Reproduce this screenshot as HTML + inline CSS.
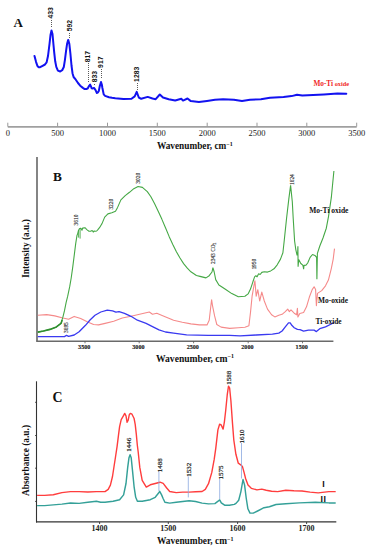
<!DOCTYPE html>
<html><head><meta charset="utf-8"><style>
html,body{margin:0;padding:0;background:#fff;}
body{width:371px;height:550px;overflow:hidden;font-family:"Liberation Serif",serif;}
svg{display:block;}
</style></head><body>
<svg width="371" height="550" viewBox="0 0 371 550">
<rect width="371" height="550" fill="#fff"/>
<polyline points="34.5,55.9 36.1,62.1 37.4,65.8 38.5,67.2 40.1,67.2 42.6,65.8 45,64.5 46.6,62.4 48,56 49.5,44 50.5,35 51.5,30.5 52.5,34 53.5,45 54.2,52.4 55.2,61.3 56.3,66.9 57.9,70.6 60.2,71.5 62.2,70.2 63.8,67 64.9,60.1 66,51.4 67.1,43.7 68.2,39.9 69.3,43.7 70.4,53.5 71.5,65.5 72.5,73.2 73.6,77 75.8,79.7 78,83 80.2,85.7 82.9,87.9 84.7,89.1 86.5,89 87.7,88.4 89,86 90.1,84.6 91,86.5 91.6,88.2 92.8,88.4 94,87.9 95.4,89.8 96.9,93 98,92.3 98.8,91 99.8,86 101,82 101.8,84.5 102.4,88 103.7,94.4 105.1,95.9 109,97.2 112,97.8 115.3,98.3 123.4,99.1 131.5,98.8 134.7,96.4 136.7,91.9 138.8,97.5 141.2,98.8 147.7,96.9 152.5,98.5 155.7,99.2 159.8,94.5 163,97.5 168.7,99.2 175.2,100.5 181.3,98.8 183,100.6 187.5,98.5 190.8,101.1 198.9,102 207,100.9 215,99.8 223.1,99.3 233.9,99.8 242,101.1 250,99.8 260.9,99.3 270,97.8 283.5,97 291.6,96.1 297,94.8 302.3,95.6 313.1,95.1 323.9,94.5 337.4,93.5 346.3,93.7" fill="none" stroke="#1212f0" stroke-width="2.0" stroke-linejoin="round" stroke-linecap="round"/>
<text transform="translate(53.0,18.6) rotate(-90)" font-size="6.8" font-family="Liberation Sans" font-weight="bold" fill="#111" text-anchor="start">433</text>
<text transform="translate(72.30000000000001,31.3) rotate(-90)" font-size="6.8" font-family="Liberation Sans" font-weight="bold" fill="#111" text-anchor="start">592</text>
<text transform="translate(90.10000000000001,62.3) rotate(-90)" font-size="6.8" font-family="Liberation Sans" font-weight="bold" fill="#111" text-anchor="start">817</text>
<text transform="translate(96.9,82.2) rotate(-90)" font-size="6.8" font-family="Liberation Sans" font-weight="bold" fill="#111" text-anchor="start">833</text>
<text transform="translate(102.7,67.9) rotate(-90)" font-size="6.8" font-family="Liberation Sans" font-weight="bold" fill="#111" text-anchor="start">917</text>
<text transform="translate(139.20000000000002,81.9) rotate(-90)" font-size="6.8" font-family="Liberation Sans" font-weight="bold" fill="#111" text-anchor="start">1283</text>
<line x1="51.5" y1="20" x2="51.5" y2="28" stroke="#5a5a5a" stroke-width="1" stroke-dasharray="1 1" shape-rendering="crispEdges"/>
<line x1="69.5" y1="33" x2="69.5" y2="39" stroke="#5a5a5a" stroke-width="1" stroke-dasharray="1 1" shape-rendering="crispEdges"/>
<line x1="88.5" y1="63" x2="88.5" y2="83" stroke="#5a5a5a" stroke-width="1" stroke-dasharray="1 1" shape-rendering="crispEdges"/>
<line x1="94.5" y1="84" x2="94.5" y2="86" stroke="#5a5a5a" stroke-width="1" stroke-dasharray="1 1" shape-rendering="crispEdges"/>
<line x1="101.5" y1="69" x2="101.5" y2="78" stroke="#5a5a5a" stroke-width="1" stroke-dasharray="1 1" shape-rendering="crispEdges"/>
<line x1="137.5" y1="83" x2="137.5" y2="90" stroke="#5a5a5a" stroke-width="1" stroke-dasharray="1 1" shape-rendering="crispEdges"/>
<line x1="7.8" y1="126.8" x2="356.7" y2="126.8" stroke="#a0a0a0" stroke-width="1.8"/>
<line x1="7.8" y1="122.7" x2="7.8" y2="126.6" stroke="#999" stroke-width="1"/>
<text x="7.8" y="136.4" font-size="8.5" font-family="Liberation Serif" fill="#222" text-anchor="middle">0</text>
<line x1="57.6" y1="122.7" x2="57.6" y2="126.6" stroke="#999" stroke-width="1"/>
<text x="57.6" y="136.4" font-size="8.5" font-family="Liberation Serif" fill="#222" text-anchor="middle">500</text>
<line x1="107.5" y1="122.7" x2="107.5" y2="126.6" stroke="#999" stroke-width="1"/>
<text x="107.5" y="136.4" font-size="8.5" font-family="Liberation Serif" fill="#222" text-anchor="middle">1000</text>
<line x1="157.3" y1="122.7" x2="157.3" y2="126.6" stroke="#999" stroke-width="1"/>
<text x="157.3" y="136.4" font-size="8.5" font-family="Liberation Serif" fill="#222" text-anchor="middle">1500</text>
<line x1="207.2" y1="122.7" x2="207.2" y2="126.6" stroke="#999" stroke-width="1"/>
<text x="207.2" y="136.4" font-size="8.5" font-family="Liberation Serif" fill="#222" text-anchor="middle">2000</text>
<line x1="257.0" y1="122.7" x2="257.0" y2="126.6" stroke="#999" stroke-width="1"/>
<text x="257.0" y="136.4" font-size="8.5" font-family="Liberation Serif" fill="#222" text-anchor="middle">2500</text>
<line x1="306.8" y1="122.7" x2="306.8" y2="126.6" stroke="#999" stroke-width="1"/>
<text x="306.8" y="136.4" font-size="8.5" font-family="Liberation Serif" fill="#222" text-anchor="middle">3000</text>
<line x1="356.7" y1="122.7" x2="356.7" y2="126.6" stroke="#999" stroke-width="1"/>
<text x="356.7" y="136.4" font-size="8.5" font-family="Liberation Serif" fill="#222" text-anchor="middle">3500</text>
<text x="194.8" y="149.3" font-size="9.3" font-family="Liberation Serif" font-weight="bold" fill="#111" text-anchor="middle">Wavenumber, cm<tspan font-size="6" dy="-3.5">&#8722;1</tspan></text>
<text x="13.4" y="26.7" font-size="13" font-family="Liberation Serif" font-weight="bold" fill="#111">A</text>
<text x="313.4" y="85.7" font-family="Liberation Serif" font-weight="bold" fill="#f02828"><tspan font-size="7.3">Mo-Ti</tspan><tspan font-size="6.3"> oxide</tspan></text>
<line x1="37" y1="156.9" x2="37" y2="341.3" stroke="#666" stroke-width="1.6"/>
<line x1="36.2" y1="341.3" x2="333.4" y2="341.3" stroke="#6a6a6a" stroke-width="1.5"/>
<line x1="85" y1="341.3" x2="85" y2="343.3" stroke="#555" stroke-width="0.8"/>
<text x="84.2" y="349.3" font-size="6.1" font-family="Liberation Serif" font-weight="bold" fill="#222" stroke="#222" stroke-width="0.15" text-anchor="middle">3500</text>
<line x1="139.2" y1="341.3" x2="139.2" y2="343.3" stroke="#555" stroke-width="0.8"/>
<text x="138.39999999999998" y="349.3" font-size="6.1" font-family="Liberation Serif" font-weight="bold" fill="#222" stroke="#222" stroke-width="0.15" text-anchor="middle">3000</text>
<line x1="193.6" y1="341.3" x2="193.6" y2="343.3" stroke="#555" stroke-width="0.8"/>
<text x="192.79999999999998" y="349.3" font-size="6.1" font-family="Liberation Serif" font-weight="bold" fill="#222" stroke="#222" stroke-width="0.15" text-anchor="middle">2500</text>
<line x1="248.2" y1="341.3" x2="248.2" y2="343.3" stroke="#555" stroke-width="0.8"/>
<text x="247.39999999999998" y="349.3" font-size="6.1" font-family="Liberation Serif" font-weight="bold" fill="#222" stroke="#222" stroke-width="0.15" text-anchor="middle">2000</text>
<line x1="302.5" y1="341.3" x2="302.5" y2="343.3" stroke="#555" stroke-width="0.8"/>
<text x="301.7" y="349.3" font-size="6.1" font-family="Liberation Serif" font-weight="bold" fill="#222" stroke="#222" stroke-width="0.15" text-anchor="middle">1500</text>
<polyline points="37.8,315.3 46.7,314.6 54.8,315.9 62.9,318 68.6,319.3 74.2,316.4 80.7,318.5 87.2,321.7 93.6,324.5 98.6,324.9 105.1,323.4 113.7,321.3 122.3,318 131,316.3 139.6,314.2 149.3,312 152.5,314.2 156.8,313.3 163.3,315.9 170,318.7 173.6,320.2 182.3,322.3 190.9,323.9 199.5,324.9 207,324.9 209.2,320.2 210.7,307.3 211.6,299.7 212.4,305.1 214.6,315.9 216.8,324.5 221.1,327.1 229.7,328.4 238.3,327.7 244.9,327.2 248.9,325.8 250.5,312.4 252.1,296.2 253.8,286.5 254.9,280.8 256.2,296.2 257.8,289.7 259.7,301 261.8,292.1 264.3,301 267.5,309.1 271.6,314.8 274.8,316.9 278.8,315.3 282.1,314.3 285.3,311.6 287.7,309.1 289.4,311.6 291,309.9 294.2,313.2 296.6,314.8 297.4,308.3 297.9,316.9 299.8,313.5 303.6,312.5 306.5,306.8 309.3,297.3 312.2,289.6 314.1,286.8 315.6,289.6 316.4,305.8 317.5,293.4 321.7,290.6 325.5,285.8 328.4,280.1 331.3,268.6 333.2,259.1 334.5,248.6" fill="none" stroke="#f58a8a" stroke-width="1.1" stroke-linejoin="round"/>
<polyline points="37.8,336.6 64.5,336.6 66.5,335.3 68.6,336.3 74.2,335 79.1,331.8 85.5,325.3 90,320 95,315.3 100.8,312 107.3,310.1 112.6,310.9 115.9,312.2 119.1,311.6 124.5,313.3 131,316.3 137.4,320.2 146.1,323.4 152.5,326.7 159,329.9 165.5,332 173.6,333.1 186.6,334.9 208.1,335.3 229.7,335.3 240,335.8 256.2,335 272.4,334.2 278.8,333.1 282.1,331 285.3,326.9 288.5,322.9 290.2,322.9 291.8,325.3 294.2,327.7 297.4,329.4 300,329.7 303.6,331.2 308.4,330.1 314.1,330.1 316.4,331.6 319.8,328.7 325.5,326.8 331.3,324 334.1,322.4" fill="none" stroke="#3a3af0" stroke-width="1.3" stroke-linejoin="round"/>
<polyline points="37.8,332.1 43.5,331 49.9,329.4 56.4,326.9 61,323.4 62.9,317.2 64.5,310.7 66.1,302.7 67.7,296.2 69.7,286.7 71.2,278 72.8,266.6 74.4,254 75.7,243.6 77,235.4 77.7,233.6 78.5,230.5 79.4,228.8 80.5,228.1 81.3,228.9 82.1,230.5 82.5,228.1 83.3,228.1 84.1,227.7 84.9,228.1 85.3,227.7 86.1,228.9 87.4,230.1 89,231.3 90.6,231.3 92.2,230.5 93.4,232.1 94.2,230.9 95.4,231.3 96.7,231 97.9,229.7 99.5,227.7 100.7,225.7 102,223.6 104.7,217.1 107.9,213.9 111.8,212.8 115.5,211.3 117.6,207.4 120.9,199.9 125.2,195.6 129.5,192.3 133.8,188.7 138.1,186.5 142.4,187.4 147.3,191.6 150.9,196.8 154.5,203.6 158.2,211.2 161.8,219.1 165.5,227.8 169.1,236.4 172.8,244.4 176.4,251.8 180,258 183.6,263.6 187.3,268.2 190.9,271.8 196.4,275.5 200,276.4 206,277.9 209.2,275.7 212,272 212.9,267.7 214.2,272 215.7,279.6 218.9,285 225.4,289.3 231.8,293.6 238.3,296.8 244.9,296.3 248.1,293.9 250.5,289.1 252.9,281.8 254.6,276.9 255.9,275.6 257,276.9 258.6,273.7 260.2,274.5 261.8,272.4 264.3,271.7 267.5,272.1 270.7,270.9 274,268.8 277.2,264.8 280.5,259.1 282.9,252.7 284.3,240 286.6,218 288.8,199.1 290.6,185.4 292.3,201.8 293.2,218.2 294.2,234.5 294.6,241 295.8,249.6 297.1,255.3 297.7,252 297.9,246.3 298.1,266.8 298.7,259.4 300.8,263.5 302.8,265.2 303.3,267 303.6,269.3 304,265.4 306,265.2 307.7,263 310.1,257.4 312.5,254.5 314.9,255.4 316.6,257.4 316.9,279.2 317.4,253.3 319.8,246 323,238 326.3,228.2 328.5,216.6 331.3,197.7 333.9,171" fill="none" stroke="#45a845" stroke-width="1.1" stroke-linejoin="bevel"/>
<path d="M78.6,230.5 V237.6 M80.1,228.8 V238.6" stroke="#45a845" stroke-width="0.9" fill="none"/>
<polyline points="37.8,332.1 43.5,331 49.9,329.4 56.4,326.9 61,323.4 62.2,320" fill="none" stroke="#2f8f2f" stroke-width="1.6" stroke-linejoin="round"/>
<text stroke="#333" stroke-width="0.15" transform="translate(68.0,333) rotate(-90)" font-size="5.4" font-family="Liberation Serif" font-weight="normal" fill="#333" text-anchor="start">3695</text>
<text stroke="#333" stroke-width="0.15" transform="translate(78.4,225.4) rotate(-90)" font-size="5.4" font-family="Liberation Serif" font-weight="normal" fill="#333" text-anchor="start">3610</text>
<text stroke="#333" stroke-width="0.15" transform="translate(112.80000000000001,209.6) rotate(-90)" font-size="5.4" font-family="Liberation Serif" font-weight="normal" fill="#333" text-anchor="start">3220</text>
<text stroke="#333" stroke-width="0.15" transform="translate(139.70000000000002,183.7) rotate(-90)" font-size="5.4" font-family="Liberation Serif" font-weight="normal" fill="#333" text-anchor="start">3020</text>
<text stroke="#333" stroke-width="0.15" transform="translate(256.2,269.6) rotate(-90)" font-size="5.4" font-family="Liberation Serif" font-weight="normal" fill="#333" text-anchor="start">1950</text>
<text stroke="#333" stroke-width="0.15" transform="translate(293.7,185) rotate(-90)" font-size="5.4" font-family="Liberation Serif" font-weight="normal" fill="#333" text-anchor="start">1624</text>
<text transform="translate(215.4,264) rotate(-90)" font-size="5.4" font-family="Liberation Serif" fill="#333" stroke="#333" stroke-width="0.15">2343 CO<tspan font-size="3.6" dy="1">2</tspan></text>
<text x="53" y="181" font-size="13.3" font-family="Liberation Serif" font-weight="bold" fill="#111">B</text>
<text transform="translate(29.3,248.5) rotate(-90)" font-size="9.4" font-family="Liberation Serif" font-weight="bold" fill="#111" text-anchor="middle">Intensity (a.u.)</text>
<text x="309.2" y="212.6" font-size="7.5" font-family="Liberation Serif" font-weight="bold" fill="#111">Mo-Ti oxide</text>
<text x="318" y="302.5" font-size="7.4" font-family="Liberation Serif" font-weight="bold" fill="#111">Mo-oxide</text>
<text x="315.5" y="324" font-size="7.4" font-family="Liberation Serif" font-weight="bold" fill="#111">Ti-oxide</text>
<text x="195" y="361.8" font-size="9.6" font-family="Liberation Serif" font-weight="bold" fill="#111" text-anchor="middle">Wavenumber, cm<tspan font-size="6" dy="-3.5">&#8722;1</tspan></text>
<line x1="36.5" y1="381.3" x2="36.5" y2="522.5" stroke="#333" stroke-width="1.1"/>
<line x1="36" y1="521.9" x2="336.3" y2="521.9" stroke="#333" stroke-width="1.2"/>
<line x1="35" y1="402.3" x2="36.5" y2="402.3" stroke="#333" stroke-width="0.8"/>
<line x1="35" y1="435.5" x2="36.5" y2="435.5" stroke="#333" stroke-width="0.8"/>
<line x1="35" y1="468.2" x2="36.5" y2="468.2" stroke="#333" stroke-width="0.8"/>
<line x1="35" y1="501.4" x2="36.5" y2="501.4" stroke="#333" stroke-width="0.8"/>
<line x1="99.6" y1="522" x2="99.6" y2="524" stroke="#333" stroke-width="0.9"/>
<text x="99.6" y="530.9" font-size="8" font-family="Liberation Serif" font-weight="bold" fill="#222" text-anchor="middle">1400</text>
<line x1="168.3" y1="522" x2="168.3" y2="524" stroke="#333" stroke-width="0.9"/>
<text x="168.3" y="530.9" font-size="8" font-family="Liberation Serif" font-weight="bold" fill="#222" text-anchor="middle">1500</text>
<line x1="237.6" y1="522" x2="237.6" y2="524" stroke="#333" stroke-width="0.9"/>
<text x="237.6" y="530.9" font-size="8" font-family="Liberation Serif" font-weight="bold" fill="#222" text-anchor="middle">1600</text>
<line x1="306.6" y1="522" x2="306.6" y2="524" stroke="#333" stroke-width="0.9"/>
<text x="306.6" y="530.9" font-size="8" font-family="Liberation Serif" font-weight="bold" fill="#222" text-anchor="middle">1700</text>
<polyline points="37.1,495.4 44.6,495.4 53.3,494.8 61.9,492.6 70.5,491.6 79.1,491.6 87.8,492 96.4,491.6 105,491.6 108.2,489.4 110.4,485.1 112.5,476.5 114.1,466 115.5,457 117.1,446.3 118.5,435.2 119.6,426.6 121.2,419.6 123.1,416.3 124.7,413.4 126,415.8 127.1,422.3 128.2,420.1 129.3,414.7 130.3,413.4 132,414.2 134.1,418.5 135.2,424.4 136.3,434.1 137.3,445 138.2,452 139.8,467.4 142.2,480.3 146.3,487.1 150.3,484.8 155.2,483.5 160,482.2 163.2,483.4 166.5,487.7 169.7,491.5 176.2,492.6 182.7,492.1 189.1,492.1 195.6,491.8 202.1,491.5 205.3,489.4 208.5,483.7 211.8,472.4 214.2,459.4 215.8,448.1 217.9,429.9 219.6,424.2 221.2,425 223.1,429.1 224.4,421.8 225.7,410.5 227.3,394.3 228.5,386.2 229.6,387.8 230.9,400.7 232.5,423.4 233.8,440 235.9,454.3 238.3,463.2 240.7,464.8 242.4,466.4 244,472.1 245.6,478.5 248,485 251.3,488.3 256.9,489.9 261.8,489.1 266.2,490.3 271.6,491.3 277.7,491.6 285.8,490.2 293.9,490.8 302,491 310.1,492.1 318.2,492.9 328.9,491.6 335.7,491.6" fill="none" stroke="#ff3d3d" stroke-width="1.4" stroke-linejoin="round"/>
<polyline points="37.1,505.6 44.6,505.6 53.3,504.9 61.9,504.1 70.5,503 79.1,503.4 87.8,502.3 96.4,501.3 100.7,502.3 105,502.2 113.1,501.3 119.6,499.7 123.6,494.9 126,483.5 127.7,467.4 129,457.7 130.1,454.7 131.2,457.7 132.5,470.6 134.1,486.8 135.7,497.3 137.4,501.3 142.2,501.3 150.3,499.7 155.2,497.3 158.4,493.3 159.7,491.3 161.6,494.9 163,498.3 164.9,502.3 169.7,503.1 176.2,502.3 182.7,501.5 189.1,500.7 195.6,501.5 202.1,503.1 208.5,503.9 214.9,503.6 218.1,501.2 219.7,499.9 221.3,502.8 224.6,505.2 229.4,505.2 234.3,504.4 236,503.4 238.7,500.2 240.9,491.6 243,479.5 244.6,485.1 246.2,498 247.9,508.8 250,513.1 253.3,513.1 257.6,511 264,507.7 269.4,506.7 276,504.5 285.8,503.7 299.3,502.9 315.5,502.3 328.9,502.9 335.7,502.9" fill="none" stroke="#34a098" stroke-width="1.45" stroke-linejoin="round"/>
<line x1="158.9" y1="471.5" x2="158.9" y2="491" stroke="#8aa8e0" stroke-width="0.8"/>
<line x1="188.3" y1="476.5" x2="188.3" y2="497.4" stroke="#8aa8e0" stroke-width="0.8"/>
<line x1="219.7" y1="479" x2="219.7" y2="499" stroke="#8aa8e0" stroke-width="0.8"/>
<line x1="241.5" y1="443" x2="241.5" y2="478.5" stroke="#8aa8e0" stroke-width="0.8"/>
<text stroke="#222" stroke-width="0.2" transform="translate(131.0,451.79999999999995) rotate(-90)" font-size="7.0" font-family="Liberation Serif" font-weight="normal" fill="#222" text-anchor="start">1446</text>
<text stroke="#222" stroke-width="0.2" transform="translate(161.6,472.29999999999995) rotate(-90)" font-size="7.0" font-family="Liberation Serif" font-weight="normal" fill="#222" text-anchor="start">1488</text>
<text stroke="#222" stroke-width="0.2" transform="translate(191.1,476.79999999999995) rotate(-90)" font-size="7.0" font-family="Liberation Serif" font-weight="normal" fill="#222" text-anchor="start">1532</text>
<text stroke="#222" stroke-width="0.2" transform="translate(222.5,479.4) rotate(-90)" font-size="7.0" font-family="Liberation Serif" font-weight="normal" fill="#222" text-anchor="start">1575</text>
<text stroke="#222" stroke-width="0.2" transform="translate(231.1,384.7) rotate(-90)" font-size="7.0" font-family="Liberation Serif" font-weight="normal" fill="#222" text-anchor="start">1588</text>
<text stroke="#222" stroke-width="0.2" transform="translate(244.4,443.5) rotate(-90)" font-size="7.0" font-family="Liberation Serif" font-weight="normal" fill="#222" text-anchor="start">1610</text>
<text x="52.6" y="401.5" font-size="13.8" font-family="Liberation Serif" font-weight="bold" fill="#111">C</text>
<text transform="translate(28.5,460.5) rotate(-90)" font-size="9.4" font-family="Liberation Serif" font-weight="bold" fill="#111" text-anchor="middle">Absorbance (a.u.)</text>
<text x="323.4" y="487.1" font-size="8.8" font-family="Liberation Sans" font-weight="bold" fill="#111" text-anchor="middle">I</text>
<text x="323.6" y="501.8" font-size="8.8" font-family="Liberation Sans" font-weight="bold" fill="#111" text-anchor="middle" letter-spacing="0.6">II</text>
<text x="195.2" y="544.1" font-size="9.4" font-family="Liberation Serif" font-weight="bold" fill="#111" text-anchor="middle">Wavenumber, cm<tspan font-size="6" dy="-3.5">&#8722;1</tspan></text>
</svg>
</body></html>
